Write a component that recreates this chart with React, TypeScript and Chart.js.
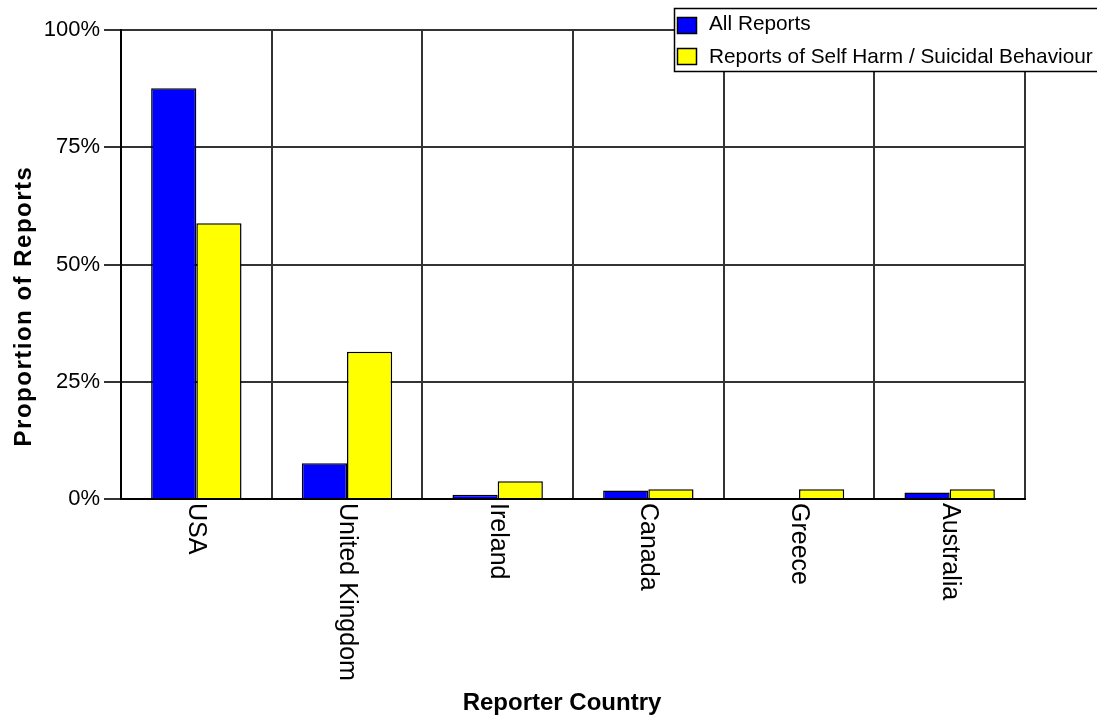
import React, { useEffect, useRef } from "react";
import { Chart, registerables } from "chart.js";

Chart.register(...registerables);

const categories = ["USA", "United Kingdom", "Ireland", "Canada", "Greece", "Australia"];
const allReports = [87.6, 7.6, 0.9, 1.8, 0, 1.4];
const selfHarmReports = [58.8, 31.4, 3.8, 2.1, 2.1, 2.1];
const seriesNames = ["All Reports", "Reports of Self Harm / Suicidal Behaviour"];
const seriesColors = ["#0000ff", "#ffff00"];
const yTicks = [0, 25, 50, 75, 100];
const xTitle = "Reporter Country";
const yTitle = "Proportion of Reports";

const FONT = '"Liberation Sans", Arial, sans-serif';

const customText = {
  id: "customText",
  afterDraw(chart: any) {
    const ctx = chart.ctx as CanvasRenderingContext2D;
    const xs = chart.scales.x;
    ctx.save();
    ctx.fillStyle = "#000";
    ctx.font = `25px ${FONT}`;
    categories.forEach((c, i) => {
      const x = xs.getPixelForValue(i);
      ctx.save();
      ctx.translate(x, 503);
      ctx.rotate(Math.PI / 2);
      ctx.textAlign = "left";
      ctx.textBaseline = "middle";
      ctx.fillText(c, 0, 0);
      ctx.restore();
    });
    ctx.font = `bold 24px ${FONT}`;
    ctx.textAlign = "center";
    ctx.textBaseline = "alphabetic";
    ctx.fillText(xTitle, 562, 710);
    ctx.save();
    ctx.translate(31, 306);
    ctx.rotate(-Math.PI / 2);
    (ctx as any).letterSpacing = "1.5px";
    ctx.textAlign = "center";
    ctx.textBaseline = "alphabetic";
    ctx.fillText(yTitle, 0, 0);
    ctx.restore();
    ctx.fillStyle = "#fff";
    ctx.fillRect(674.5, 8.5, 440, 63);
    ctx.strokeStyle = "#000";
    ctx.lineWidth = 1.5;
    ctx.strokeRect(674.5, 8.5, 440, 63);
    const rows = [
      { sy: 17, by: 30 },
      { sy: 48, by: 63 },
    ];
    ctx.font = `20.8px ${FONT}`;
    ctx.textAlign = "left";
    seriesNames.forEach((n, i) => {
      ctx.fillStyle = seriesColors[i];
      ctx.fillRect(677.5, rows[i].sy + 0.5, 19, 16);
      ctx.strokeStyle = "#000";
      ctx.lineWidth = 1.5;
      ctx.strokeRect(677.5, rows[i].sy + 0.5, 19, 16);
      ctx.fillStyle = "#000";
      ctx.fillText(n, 709, rows[i].by);
    });
    ctx.restore();
  },
};

export default function App() {
  const ref = useRef<HTMLCanvasElement>(null);
  useEffect(() => {
    const chart = new Chart(ref.current!, {
      type: "bar",
      data: {
        labels: categories,
        datasets: [
          {
            label: seriesNames[0],
            data: allReports,
            backgroundColor: seriesColors[0],
            borderColor: "#000",
            borderWidth: 1.5,
            categoryPercentage: 0.6,
            barPercentage: 1,
          },
          {
            label: seriesNames[1],
            data: selfHarmReports,
            backgroundColor: seriesColors[1],
            borderColor: "#000",
            borderWidth: 1.5,
            categoryPercentage: 0.6,
            barPercentage: 1,
          },
        ],
      },
      options: {
        animation: false,
        responsive: false,
        layout: { padding: { top: 30, right: 72, left: 0, bottom: 0 } },
        plugins: { legend: { display: false }, tooltip: { enabled: false } },
        scales: {
          x: {
            afterFit: (s: any) => {
              s.height = 719 - 499;
            },
            ticks: { display: false },
            grid: { color: "#333", lineWidth: 2, drawTicks: false, offset: true },
            border: { color: "#000", width: 2 },
          },
          y: {
            min: 0,
            max: 100,
            afterFit: (s: any) => {
              s.width = 121;
            },
            afterBuildTicks: (s: any) => {
              s.ticks = yTicks.map((v) => ({ value: v }));
            },
            ticks: {
              padding: 4,
              color: "#000",
              font: { family: FONT, size: 22 },
              callback: (v: any) => `${v}%`,
            },
            grid: { color: "#333", lineWidth: 2, tickLength: 17 },
            border: { color: "#000", width: 2 },
          },
        },
      },
      plugins: [customText],
    });
    return () => chart.destroy();
  }, []);
  return (
    <div style={{ position: "fixed", left: 0, top: 0, width: 1097, height: 719, background: "#fff" }}>
      <canvas ref={ref} width={1097} height={719} style={{ width: 1097, height: 719 }} />
    </div>
  );
}
